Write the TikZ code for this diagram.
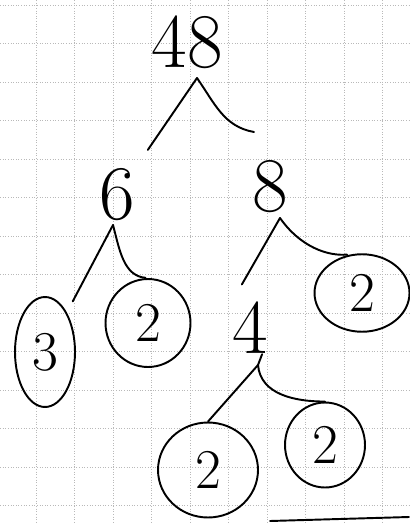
\documentclass[tikz,border=0pt]{standalone}
\usepackage{tikz}
\usetikzlibrary{shapes.geometric}

\begin{document}
\begin{tikzpicture}[
  x=0.02cm, y=-0.02cm,
  numtext/.style={inner sep=0pt, font=\fontsize{44}{44}\selectfont},
  primering/.style={draw, ellipse, inner sep=0pt, line width=1.1pt, font=\fontsize{32}{32}\selectfont},
  branch/.style={line width=1.1pt, line cap=round},
  gridline/.style={gray!55, densely dotted, line width=0.5pt}
]
\useasboundingbox (0,0) rectangle (409,523);
\foreach \i in {0,...,9} \draw[gridline] (36+38.5*\i,0) -- (36+38.5*\i,523);
\foreach \j in {0,...,13} \draw[gridline] (0,5+38.5*\j) -- (409,5+38.5*\j);
% the numbers
\node[numtext] (n48) at (187,42) {48};
\node[numtext] (n6) at (117,195) {6};
\node[numtext] (n8) at (270,187) {8};
\node[numtext] (n4) at (250,328) {4};
\node[primering, minimum width=1.2cm, minimum height=2.2cm] (n3) at (45,352) {3};
\node[primering, minimum width=1.7cm, minimum height=1.76cm] (n2a) at (148,323) {2};
\node[primering, minimum width=1.9cm, minimum height=1.55cm] (n2b) at (362,293) {2};
\node[primering, minimum width=2.0cm, minimum height=1.9cm] (n2c) at (208,470) {2};
\node[primering, minimum width=1.6cm, minimum height=1.7cm] (n2d) at (325,445) {2};
% split points
\coordinate (s48) at (197,78);
\coordinate (e48) at (254,132);
\coordinate (s6) at (113,225);
\coordinate (s8) at (280,218);
\coordinate (s4) at (258,365);
\draw[branch, shorten >=0.45cm] (s48) -- (n6.north east);
\draw[branch] (s48) to[out=-55, in=170] (e48);
\draw[branch, shorten >=0.25cm] (s6) -- (n3.north east);
\draw[branch, shorten >=0.05cm] (s6) to[out=-75, in=175] (n2a.north);
\draw[branch, shorten >=0.4cm] (s8) -- (n4.north west);
\draw[branch, shorten >=0.3cm] (s8) to[out=-55, in=185] (n2b.north);
\draw[branch] (n4.south east) ++(-0.12cm,0) -- (s4);
\draw[branch] (s4) -- (n2c.north);
\draw[branch] (s4) to[out=-85, in=180] (n2d.north);
\coordinate (m1) at (270,521);
\coordinate (m2) at (409,517);
\draw[branch] (m1) -- (m2);
\end{tikzpicture}
\end{document}
